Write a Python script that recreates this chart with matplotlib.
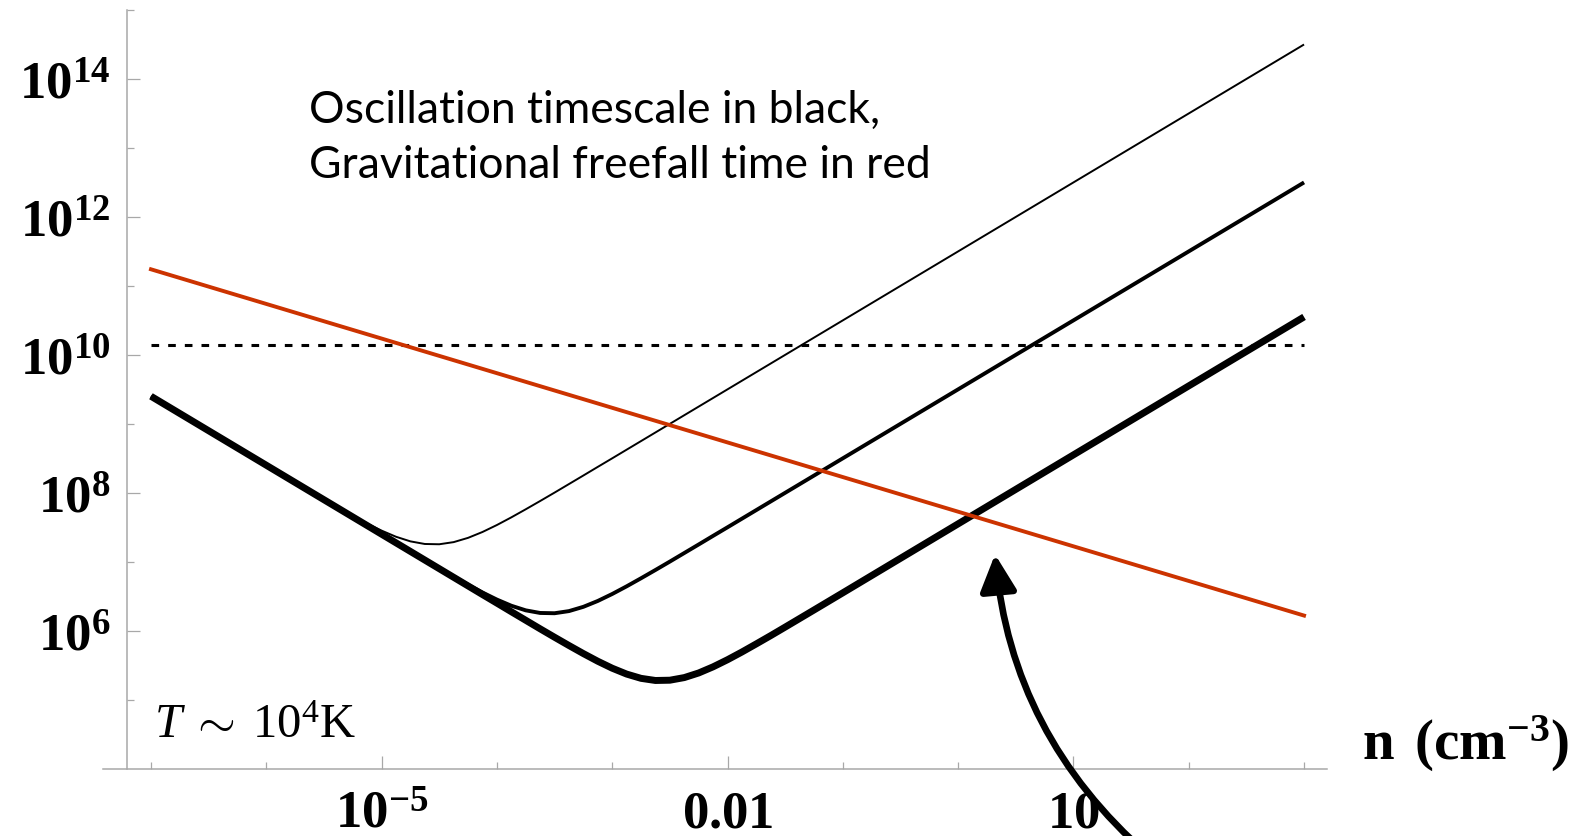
import numpy as np
import matplotlib
matplotlib.use("Agg")
import matplotlib.pyplot as plt
from matplotlib.ticker import NullFormatter

plt.rcParams['mathtext.fontset'] = 'custom'
plt.rcParams['mathtext.rm'] = 'Liberation Serif'
plt.rcParams['mathtext.it'] = 'Liberation Serif:italic'
plt.rcParams['mathtext.bf'] = 'Liberation Serif:bold'
plt.rcParams['lines.scale_dashes'] = False

# density grid, log10(n / cm^-3)
log_n = [-7, -6, -5.75, -5.5, -5.375, -5.25, -5.125, -5, -4.875, -4.75, -4.625, -4.5,
         -4.375, -4.25, -4.125, -4, -3.875, -3.75, -3.625, -3.5, -3.375, -3.25, -3.125,
         -3, -2.875, -2.75, -2.625, -2.5, -2.375, -2.25, -2.125, -2, -1.875, -1.75,
         -1.625, -1.5, -1.25, -1, -0.5, 0, 1, 2, 3]

# oscillation timescales, log10(t / yr), thin / medium / thick curve
log_t_osc_thin = [9.40, 8.401, 8.152, 7.905, 7.785, 7.667, 7.555, 7.452, 7.363, 7.296,
                  7.258, 7.254, 7.285, 7.347, 7.432, 7.533, 7.644, 7.761, 7.881, 8.003,
                  8.127, 8.251, 8.376, 8.50, 8.625, 8.75, 8.875, 9.00, 9.125, 9.25,
                  9.375, 9.50, 9.625, 9.75, 9.875, 10.00, 10.25, 10.50, 11.00, 11.50,
                  12.50, 13.50, 14.50]
log_t_osc_mid = [9.40, 8.40, 8.15, 7.90, 7.775, 7.65, 7.525, 7.401, 7.276, 7.152,
                 7.028, 6.905, 6.785, 6.667, 6.555, 6.452, 6.363, 6.296, 6.258, 6.254,
                 6.285, 6.347, 6.432, 6.533, 6.644, 6.761, 6.881, 7.003, 7.127, 7.251,
                 7.376, 7.50, 7.625, 7.75, 7.875, 8.00, 8.25, 8.50, 9.00, 9.50,
                 10.50, 11.50, 12.50]
log_t_osc_thick = [9.40, 8.40, 8.15, 7.90, 7.775, 7.65, 7.525, 7.40, 7.275, 7.15,
                   7.025, 6.90, 6.775, 6.65, 6.525, 6.401, 6.276, 6.152, 6.028, 5.906,
                   5.786, 5.669, 5.558, 5.457, 5.372, 5.310, 5.279, 5.283, 5.321, 5.388,
                   5.477, 5.580, 5.692, 5.810, 5.930, 6.053, 6.301, 6.55, 7.05, 7.55,
                   8.55, 9.55, 10.55]

# gravitational freefall time (straight line in log-log)
n_ff = [1e-7, 1e3]
t_ff = [1.74e11, 1.66e6]

# age of the universe
t_hubble = 1.4e10

x_major = [1e-5, 1e-2, 1e1]
x_major_labels = [r'$\mathbf{10^{-5}}$', r'$\mathbf{0.01}$', r'$\mathbf{10}$']
y_major = [1e6, 1e8, 1e10, 1e12, 1e14]
y_major_labels = [r'$\mathbf{10^{6}}$', r'$\mathbf{10^{8}}$', r'$\mathbf{10^{10}}$',
                  r'$\mathbf{10^{12}}$', r'$\mathbf{10^{14}}$']

n = 10.0 ** np.array(log_n)

fig = plt.figure(figsize=(15.72, 8.36), dpi=100)
ax = fig.add_axes([103 / 1572, 67.3 / 836, (1327 - 103) / 1572, (826 - 67.3) / 836])
ax.set_xscale('log')
ax.set_yscale('log')
ax.set_xlim(10 ** -7.416, 10 ** 3.199)
ax.set_ylim(1e4, 1e15)

line_kw = dict(color='black', solid_capstyle='butt', solid_joinstyle='round')
ax.plot(n, 10.0 ** np.array(log_t_osc_thin), lw=1.4, **line_kw)
ax.plot(n, 10.0 ** np.array(log_t_osc_mid), lw=2.8, **line_kw)
ax.plot(n, 10.0 ** np.array(log_t_osc_thick), lw=5.0, **line_kw)
ax.plot(n_ff, [t_hubble, t_hubble], color='black', lw=2.2, dashes=(5.5, 6.5))
ax.plot(n_ff, t_ff, color='#CC3300', lw=2.8)

# axes in gray, ticks pointing inward
for side in ['top', 'right']:
    ax.spines[side].set_visible(False)
ax.spines['left'].set_position(('data', 10 ** -7.208))
for side in ['left', 'bottom']:
    ax.spines[side].set_color('#a8a8a8')
    ax.spines[side].set_linewidth(1.1)

ax.set_xticks(x_major, labels=x_major_labels)
ax.set_xticks([10.0 ** k for k in range(-7, 4) if k not in (-5, -2, 1)], minor=True)
ax.set_yticks(y_major, labels=y_major_labels)
ax.set_yticks([10.0 ** k for k in (5, 7, 9, 11, 13, 15)], minor=True)
ax.xaxis.set_minor_formatter(NullFormatter())
ax.yaxis.set_minor_formatter(NullFormatter())
ax.tick_params(which='both', direction='in', color='#a8a8a8', width=0.9, labelsize=38)
ax.tick_params(which='major', length=9.5)
ax.tick_params(which='minor', length=5)
ax.tick_params(axis='x', pad=13)
ax.tick_params(axis='y', pad=12)

ax.text(0.168, 0.895, 'Oscillation timescale in black,\nGravitational freefall time in red',
        transform=ax.transAxes, family='Lato', fontsize=32, va='top', ha='left',
        linespacing=1.42)
ax.text(1e-7 * 1.06, 10 ** 4.45, r'$T\;\sim\;10^4\mathrm{K}$', fontsize=35, ha='left',
        va='baseline')
fig.text(1362 / 1572, 1 - 760 / 836, r'$\mathbf{n\ \,(cm^{-3})}$', fontsize=41,
         ha='left', va='baseline')

ax.annotate('', xy=(2.09, 1.28e7), xytext=(44.4, 562), annotation_clip=False,
            arrowprops=dict(arrowstyle='-|>,head_length=1.0,head_width=0.5',
                            connectionstyle='arc3,rad=-0.2', lw=4.8, color='black',
                            mutation_scale=22, shrinkA=0, shrinkB=0))

fig.savefig('out.png', dpi=100)
